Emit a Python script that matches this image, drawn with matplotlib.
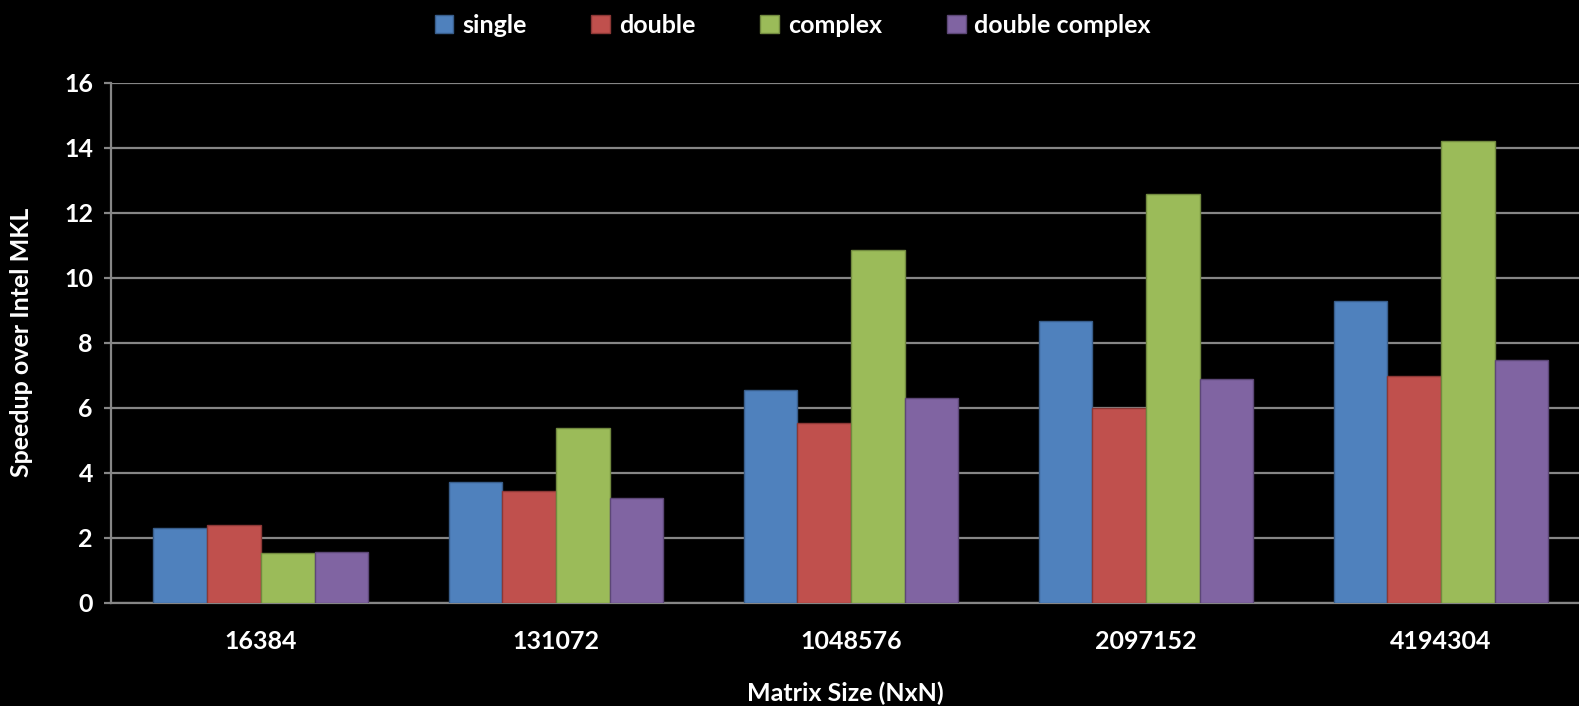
import numpy as np
import matplotlib
matplotlib.use("Agg")
import matplotlib.pyplot as plt

matplotlib.rcParams['font.family'] = ['Lato', 'DejaVu Sans']
matplotlib.rcParams['font.weight'] = 'bold'

sizes = ["16384", "131072", "1048576", "2097152", "4194304"]
series = ["single", "double", "complex", "double complex"]
single = [2.30, 3.71, 6.54, 8.67, 9.28]
double = [2.38, 3.44, 5.53, 6.00, 6.98]
complex_ = [1.53, 5.37, 10.86, 12.57, 14.20]
double_complex = [1.55, 3.22, 6.29, 6.89, 7.47]

colors = ["#4F81BD", "#C0504D", "#9BBB59", "#8064A2"]
edges = ["#385D8A", "#8C3836", "#71893F", "#5C4776"]
grid_col = "#868686"
fs = 18

fig = plt.figure(figsize=(15.79, 7.06), dpi=100, facecolor="black")
ax = fig.add_axes([0.0703, 0.1463, 0.9297, 0.7366], facecolor="black")

x = np.arange(len(sizes))
w = 0.182
for i, (name, vals) in enumerate(zip(series, [single, double, complex_, double_complex])):
    ax.bar(x + (i - 1.5) * w, vals, w, color=colors[i], edgecolor=edges[i],
           linewidth=1, label=name, zorder=3)

ax.set_xlim(-0.508, 4.468)
ax.set_ylim(0, 16)
ax.set_yticks(range(0, 17, 2))
ax.yaxis.grid(True, color=grid_col, linewidth=1.6, zorder=0)

for side in ["top", "right"]:
    ax.spines[side].set_visible(False)
for side in ["left", "bottom"]:
    ax.spines[side].set_color(grid_col)
    ax.spines[side].set_linewidth(1.6)

ax.set_xticks(x)
ax.set_xticklabels(sizes)
ax.tick_params(axis="x", length=0, pad=20, colors="white", labelsize=fs)
ax.tick_params(axis="y", length=5, width=1.6, color=grid_col, pad=8,
               labelcolor="white", labelsize=fs)

ax.set_xlabel("Matrix Size (NxN)", color="white", fontsize=fs, fontweight="bold", labelpad=20)
ax.set_ylabel("Speedup over Intel MKL", color="white", fontsize=fs, fontweight="bold", labelpad=22)

leg = fig.legend(loc="upper center", bbox_to_anchor=(0.502, 1.012), ncol=4, frameon=False,
                 fontsize=fs, handlelength=0.75, handleheight=0.75, handletextpad=0.35,
                 columnspacing=2.6)
for t in leg.get_texts():
    t.set_color("white")

fig.savefig("out.png", dpi=100, facecolor="black")
